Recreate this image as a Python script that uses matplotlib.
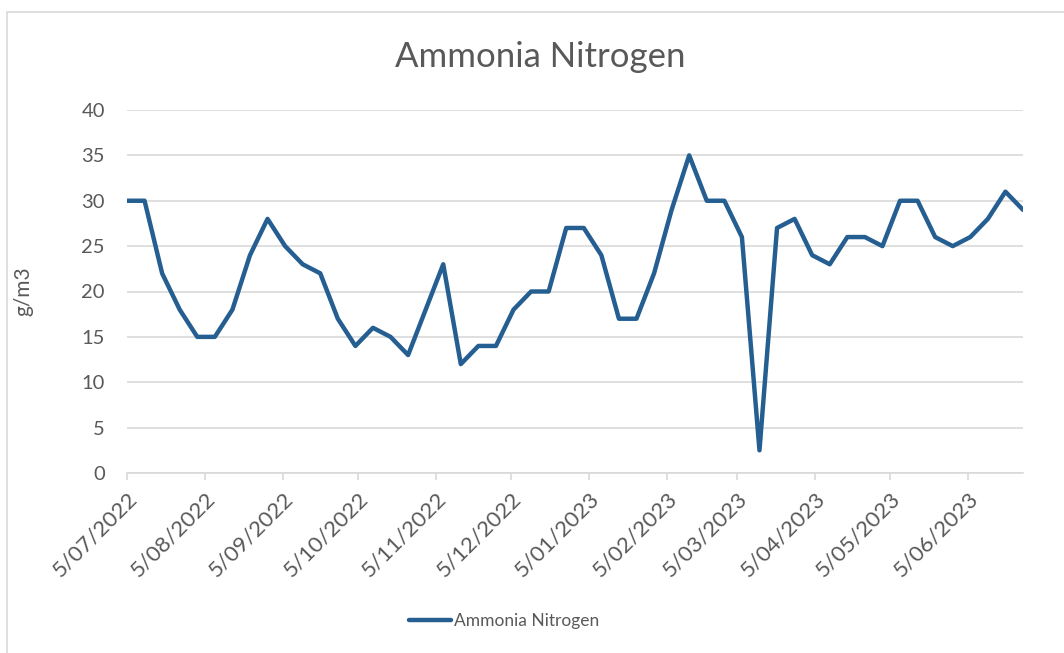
import matplotlib.pyplot as plt
from matplotlib.patches import Rectangle
import pandas as pd

# weekly samples from 5 July 2022
fechas = pd.date_range("2022-07-05", periods=52, freq="7D")
amonio = [30, 30, 22, 18, 15, 15, 18, 24, 28, 25, 23, 22, 17, 14, 16, 15, 13, 18,
          23, 12, 14, 14, 18, 20, 20, 27, 27, 24, 17, 17, 22, 29, 35, 30, 30, 26,
          2.5, 27, 28, 24, 23, 26, 26, 25, 30, 30, 26, 25, 26, 28, 31, 29]
# monthly ticks on the 5th
ticks_mes = pd.date_range("2022-07-01", "2023-06-01", freq="MS") + pd.Timedelta(days=4)

gris = "#595959"
plt.rcParams["font.family"] = ["Lato", "DejaVu Sans"]

fig = plt.figure(figsize=(10.64, 6.53), dpi=100)
ax = fig.add_axes([127 / 1064, 1 - 473 / 653, (1023 - 127) / 1064, (473 - 110) / 653])

# marco del grafico
fig.patches.append(Rectangle((7 / 1064, -0.1), 1.2, 1 - 12 / 653 + 0.1,
                             transform=fig.transFigure, fill=False,
                             edgecolor="#d9d9d9", linewidth=1.2))

ax.plot(fechas, amonio, color="#255e91", linewidth=3.2, label="Ammonia Nitrogen",
        solid_joinstyle="round", solid_capstyle="round", zorder=3)

ax.set_ylim(0, 40)
ax.set_yticks(range(0, 41, 5))
ax.set_xlim(fechas[0], fechas[-1])
ax.set_xticks(ticks_mes)
ax.set_xticklabels([f"{d.day}/{d:%m/%Y}" for d in ticks_mes], rotation=45,
                   ha="right", rotation_mode="anchor")

ax.grid(axis="y", color="#d9d9d9", linewidth=1.2)
ax.set_axisbelow(True)
for s in ["top", "right", "left"]:
    ax.spines[s].set_visible(False)
ax.spines["bottom"].set_color("#d9d9d9")
ax.spines["bottom"].set_linewidth(1.2)
ax.tick_params(axis="y", length=0, pad=16, labelsize=14.5, labelcolor=gris)
ax.tick_params(axis="x", length=5, color="#d9d9d9", width=1.2, pad=6,
               labelsize=16, labelcolor=gris)

ax.set_ylabel("g/m3", fontsize=15, color=gris)
ax.yaxis.set_label_coords((33 - 127) / 896, 0.5)
fig.text(540 / 1064, 1 - 57 / 653, "Ammonia Nitrogen", fontsize=25, color=gris,
         ha="center", va="center")

fig.legend(loc="center", bbox_to_anchor=(504 / 1064, 1 - 621 / 653), frameon=False,
           fontsize=12.5, labelcolor=gris, handlelength=2.4, handletextpad=0.15)

fig.savefig("out.png", dpi=100)
